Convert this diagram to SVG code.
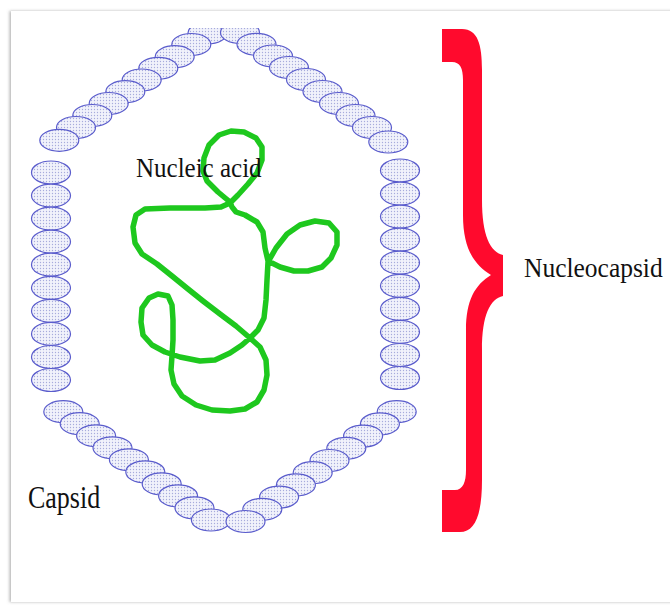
<svg xmlns="http://www.w3.org/2000/svg" width="670" height="606" viewBox="0 0 670 606">
  <defs>
    <!-- stippled fill of the capsomere ellipses -->
    <pattern id="stipple" width="3" height="3" patternUnits="userSpaceOnUse">
      <rect width="3" height="3" fill="#f1f2fb"/>
      <circle cx="1.5" cy="1.5" r="0.65" fill="#a7abdc"/>
    </pattern>
    <filter id="cardShadow" x="-5%" y="-5%" width="110%" height="110%">
      <feDropShadow dx="-1.5" dy="0" stdDeviation="1.6" flood-color="#7a7a7a" flood-opacity="0.55"/>
    </filter>
    <clipPath id="capsidClip">
      <rect x="0" y="28" width="670" height="578"/>
    </clipPath>
  </defs>
  <style>
    .cap { fill: url(#stipple); stroke: #5a5ccc; stroke-width: 1.2; }
    .label { font-family: "Liberation Serif", "Times New Roman", serif; fill: #111; }
    .na { fill: none; stroke: #1ec81e; stroke-width: 5.5; stroke-linejoin: round; stroke-linecap: round; }
  </style>

  <rect width="670" height="606" fill="#ffffff"/>
  <!-- card background -->
  <rect x="11" y="11" width="700" height="591" fill="#ffffff" filter="url(#cardShadow)"/>

  <!-- capsid: hexagonal shell of capsomeres -->
  <g id="capsid" clip-path="url(#capsidClip)">
    <!-- upper left edge -->
    <ellipse class="cap" cx="207.5" cy="33" rx="19.5" ry="11"/>
    <ellipse class="cap" cx="191.3" cy="44.5" rx="19.5" ry="11"/>
    <ellipse class="cap" cx="174.7" cy="56.7" rx="19.5" ry="11"/>
    <ellipse class="cap" cx="158.3" cy="68.3" rx="19.5" ry="11"/>
    <ellipse class="cap" cx="141.7" cy="80" rx="19.5" ry="11"/>
    <ellipse class="cap" cx="125.3" cy="91.7" rx="19.5" ry="11"/>
    <ellipse class="cap" cx="108.7" cy="103.5" rx="19.5" ry="11"/>
    <ellipse class="cap" cx="92.3" cy="115.5" rx="19.5" ry="11"/>
    <ellipse class="cap" cx="76" cy="127.5" rx="19.5" ry="11"/>
    <ellipse class="cap" cx="59.3" cy="140.3" rx="19.5" ry="11"/>
    <!-- upper right edge -->
    <ellipse class="cap" cx="240" cy="32.5" rx="19.5" ry="11"/>
    <ellipse class="cap" cx="256.5" cy="44.3" rx="19.5" ry="11"/>
    <ellipse class="cap" cx="273" cy="56" rx="19.5" ry="11"/>
    <ellipse class="cap" cx="289" cy="67.5" rx="19.5" ry="11"/>
    <ellipse class="cap" cx="306" cy="79.5" rx="19.5" ry="11"/>
    <ellipse class="cap" cx="322.5" cy="91.5" rx="19.5" ry="11"/>
    <ellipse class="cap" cx="339" cy="103.5" rx="19.5" ry="11"/>
    <ellipse class="cap" cx="355.5" cy="115.5" rx="19.5" ry="11"/>
    <ellipse class="cap" cx="372" cy="127.5" rx="19.5" ry="11"/>
    <ellipse class="cap" cx="388.3" cy="142" rx="19.5" ry="11"/>
    <!-- left column -->
    <ellipse class="cap" cx="51" cy="172.5" rx="19.5" ry="11.5"/>
    <ellipse class="cap" cx="51" cy="195.6" rx="19.5" ry="11.5"/>
    <ellipse class="cap" cx="51" cy="218.6" rx="19.5" ry="11.5"/>
    <ellipse class="cap" cx="51" cy="241.7" rx="19.5" ry="11.5"/>
    <ellipse class="cap" cx="51" cy="264.7" rx="19.5" ry="11.5"/>
    <ellipse class="cap" cx="51" cy="287.8" rx="19.5" ry="11.5"/>
    <ellipse class="cap" cx="51" cy="310.9" rx="19.5" ry="11.5"/>
    <ellipse class="cap" cx="51" cy="333.9" rx="19.5" ry="11.5"/>
    <ellipse class="cap" cx="51" cy="357" rx="19.5" ry="11.5"/>
    <ellipse class="cap" cx="51" cy="380" rx="19.5" ry="11.5"/>
    <!-- right column -->
    <ellipse class="cap" cx="400" cy="170.5" rx="19.5" ry="11.5"/>
    <ellipse class="cap" cx="400" cy="193.6" rx="19.5" ry="11.5"/>
    <ellipse class="cap" cx="400" cy="216.6" rx="19.5" ry="11.5"/>
    <ellipse class="cap" cx="400" cy="239.7" rx="19.5" ry="11.5"/>
    <ellipse class="cap" cx="400" cy="262.7" rx="19.5" ry="11.5"/>
    <ellipse class="cap" cx="400" cy="285.8" rx="19.5" ry="11.5"/>
    <ellipse class="cap" cx="400" cy="308.9" rx="19.5" ry="11.5"/>
    <ellipse class="cap" cx="400" cy="331.9" rx="19.5" ry="11.5"/>
    <ellipse class="cap" cx="400" cy="355" rx="19.5" ry="11.5"/>
    <ellipse class="cap" cx="400" cy="378" rx="19.5" ry="11.5"/>
    <!-- lower left edge -->
    <ellipse class="cap" cx="63.3" cy="411.7" rx="19.5" ry="11"/>
    <ellipse class="cap" cx="79.7" cy="423.7" rx="19.5" ry="11"/>
    <ellipse class="cap" cx="96.1" cy="435.8" rx="19.5" ry="11"/>
    <ellipse class="cap" cx="112.5" cy="447.8" rx="19.5" ry="11"/>
    <ellipse class="cap" cx="128.9" cy="459.8" rx="19.5" ry="11"/>
    <ellipse class="cap" cx="145.3" cy="471.9" rx="19.5" ry="11"/>
    <ellipse class="cap" cx="161.7" cy="483.9" rx="19.5" ry="11"/>
    <ellipse class="cap" cx="178.1" cy="495.9" rx="19.5" ry="11"/>
    <ellipse class="cap" cx="194.5" cy="507.9" rx="19.5" ry="11"/>
    <ellipse class="cap" cx="210.9" cy="520" rx="19.5" ry="11"/>
    <!-- lower right edge -->
    <ellipse class="cap" cx="396.7" cy="411.7" rx="19.5" ry="11"/>
    <ellipse class="cap" cx="379.9" cy="423.9" rx="19.5" ry="11"/>
    <ellipse class="cap" cx="363.1" cy="436.1" rx="19.5" ry="11"/>
    <ellipse class="cap" cx="346.3" cy="448.3" rx="19.5" ry="11"/>
    <ellipse class="cap" cx="329.5" cy="460.5" rx="19.5" ry="11"/>
    <ellipse class="cap" cx="312.7" cy="472.7" rx="19.5" ry="11"/>
    <ellipse class="cap" cx="295.9" cy="484.9" rx="19.5" ry="11"/>
    <ellipse class="cap" cx="279.1" cy="497.1" rx="19.5" ry="11"/>
    <ellipse class="cap" cx="262.3" cy="509.3" rx="19.5" ry="11"/>
    <ellipse class="cap" cx="245.5" cy="521.5" rx="19.5" ry="11"/>
  </g>

  <!-- nucleic acid strand -->
  <g id="nucleic-acid">
    <path class="na" d="M230,202 L218,192 L207,181 L203,171 L204,158 L209,145 L219,135 L231,131 L244,132 L256,138 L262,147 L262,160 L257,173 L248,184 L238,195 L230,203
      L221,207 L205,208 L170,208 L145,209 L136,215 L133,227 L135,243 L142,254 L157,264 L172,276 L188,289 L203,301 L220,314 L236,326 L250,338
      L260,347 L266,360 L267,375 L264,390 L257,402 L245,409 L230,411 L212,410 L196,405 L182,396 L174,384 L171,370 L172,356 L173,340 L173,320 L172,305 L168,296 L158,294 L149,298 L142,308 L141,322 L143,335 L152,345 L165,352 L180,357 L200,361 L215,360 L230,353 L242,345 L250,338
      L258,330 L264,318 L266,300 L267,280 L268,262
      L276,248 L287,234 L300,225 L315,221 L329,223 L337,232 L337,245 L331,258 L322,267 L308,271 L294,271 L280,267 L268,261
      L265,248 L263,232 L257,222 L245,215 L236,212 L232,207 Z"/>
  </g>

  <!-- curly brace spanning the nucleocapsid -->
  <g id="nucleocapsid-brace">
    <path fill="#ff0a2d" d="M442,29 L462,29 C478,29 482,45 482,70 L482,200 C482,235 490,252 503,255 L503,296 C490,299 482,315 482,350 L482,480 C482,515 475,532 460,532 L442,532 L442,490 L455,490 C463,490 466,482 466,470 L466,330 C466,300 475,285 491,275 C475,265 463,250 463,215 L463,80 C463,68 460,62 452,62 L442,62 Z"/>
  </g>

  <!-- labels (slightly tall serif lettering) -->
  <g id="labels">
    <text class="label" font-size="25" transform="translate(136,177) scale(1,1.06)">Nucleic acid</text>
    <text class="label" font-size="26" transform="translate(28,508) scale(1,1.18)">Capsid</text>
    <text class="label" font-size="25.5" transform="translate(524,277) scale(1,1.08)">Nucleocapsid</text>
  </g>
</svg>
